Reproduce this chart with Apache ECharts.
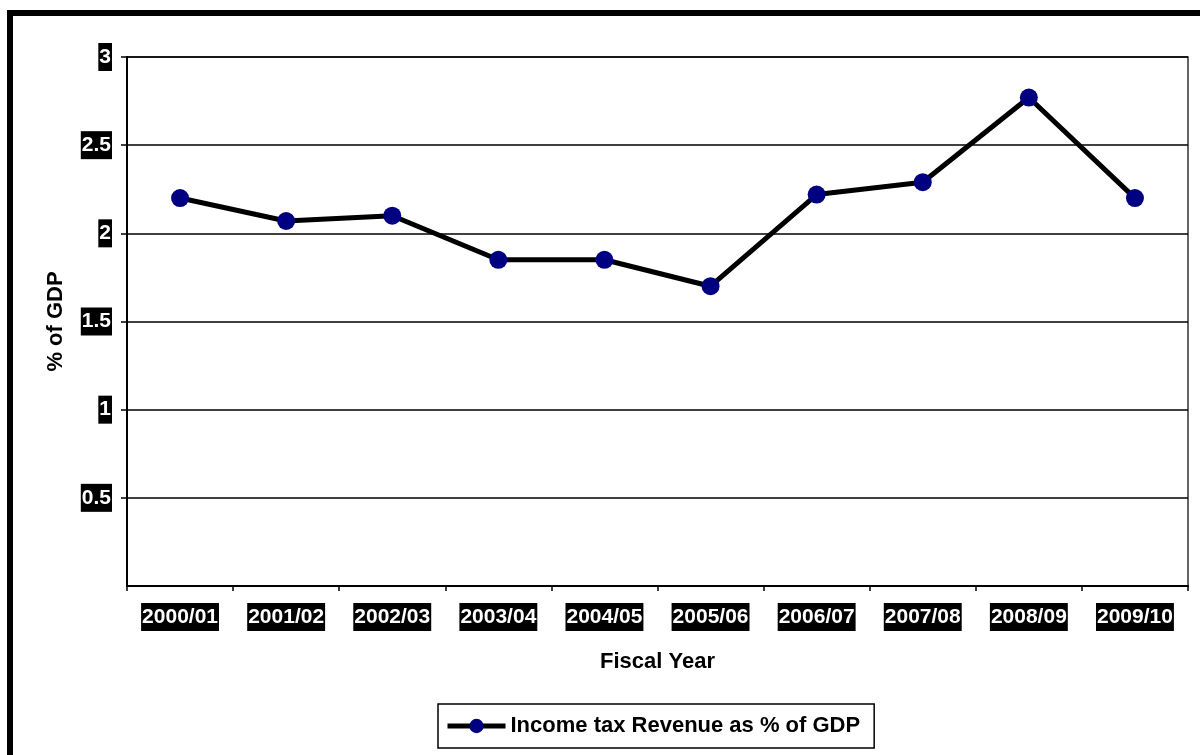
<!DOCTYPE html>
<html>
<head>
<meta charset="utf-8">
<script src="https://cdn.jsdelivr.net/npm/echarts@6/dist/echarts.min.js"></script>
<style>
  html, body { margin: 0; padding: 0; background: #fff; }
  #chart { width: 1200px; height: 755px; }
</style>
</head>
<body>
<div id="chart"></div>
<script>
// Fiscal years on the category axis
const fiscalYears = ['2000/01', '2001/02', '2002/03', '2003/04', '2004/05',
                     '2005/06', '2006/07', '2007/08', '2008/09', '2009/10'];
// Income tax revenue, percent of GDP
const incomeTaxPctGdp = [2.2, 2.07, 2.1, 1.85, 1.85, 1.7, 2.22, 2.29, 2.77, 2.2];
const seriesName = 'Income tax Revenue as % of GDP';

const FONT = '"Liberation Sans", Arial, sans-serif';

const chart = echarts.init(document.getElementById('chart'), null, { renderer: 'canvas' });

chart.setOption({
  backgroundColor: '#fff',
  animation: false,
  textStyle: { fontFamily: FONT },
  graphic: [{
    type: 'rect',
    shape: { x: 10, y: 13, width: 1400, height: 1000 },
    style: { fill: 'none', stroke: '#000', lineWidth: 6 },
    silent: true
  }],
  grid: {
    left: 127, top: 57, right: 12, bottom: 169,
    show: true, borderColor: '#333', borderWidth: 1.5, backgroundColor: 'transparent'
  },
  legend: {
    left: 438, top: 704,
    padding: [11, 14, 11, 7],
    borderColor: '#000', borderWidth: 1.5,
    itemWidth: 58, itemHeight: 18, itemGap: 5,
    lineStyle: { color: '#000', width: 5 },
    itemStyle: { color: '#000080' },
    textStyle: { fontFamily: FONT, fontWeight: 'bold', fontSize: 22, color: '#000' },
    data: [seriesName]
  },
  xAxis: {
    type: 'category',
    data: fiscalYears,
    boundaryGap: true,
    name: 'Fiscal Year',
    nameLocation: 'middle',
    nameGap: 65,
    nameTextStyle: { fontFamily: FONT, fontWeight: 'bold', fontSize: 22, color: '#000' },
    axisLine: { show: true, lineStyle: { color: '#000', width: 2 } },
    axisTick: { show: true, length: 5, lineStyle: { color: '#000', width: 1.5 } },
    axisLabel: {
      margin: 17, interval: 0,
      fontFamily: FONT, fontWeight: 'bold', fontSize: 21, color: '#fff',
      backgroundColor: '#000', padding: [4, 1, 3, 1]
    },
    splitLine: { show: false }
  },
  yAxis: {
    type: 'value',
    min: 0, max: 3, interval: 0.5,
    name: '% of GDP',
    nameLocation: 'middle',
    nameGap: 60,
    nameRotate: 90,
    nameTextStyle: { fontFamily: FONT, fontWeight: 'bold', fontSize: 22, color: '#000' },
    axisLine: { show: true, lineStyle: { color: '#000', width: 2 } },
    axisTick: { show: true, length: 6, lineStyle: { color: '#000', width: 1.5 } },
    axisLabel: {
      showMinLabel: false,
      margin: 15,
      fontFamily: FONT, fontWeight: 'bold', fontSize: 21, color: '#fff',
      backgroundColor: '#000', padding: [4, 1, 3, 1]
    },
    splitLine: { show: true, lineStyle: { color: '#000', width: 1.5 } }
  },
  series: [{
    name: seriesName,
    type: 'line',
    data: incomeTaxPctGdp,
    symbol: 'circle',
    symbolSize: 18,
    lineStyle: { color: '#000', width: 5 },
    itemStyle: { color: '#000080', borderWidth: 0 },
    emphasis: { disabled: true }
  }]
});
</script>
</body>
</html>
